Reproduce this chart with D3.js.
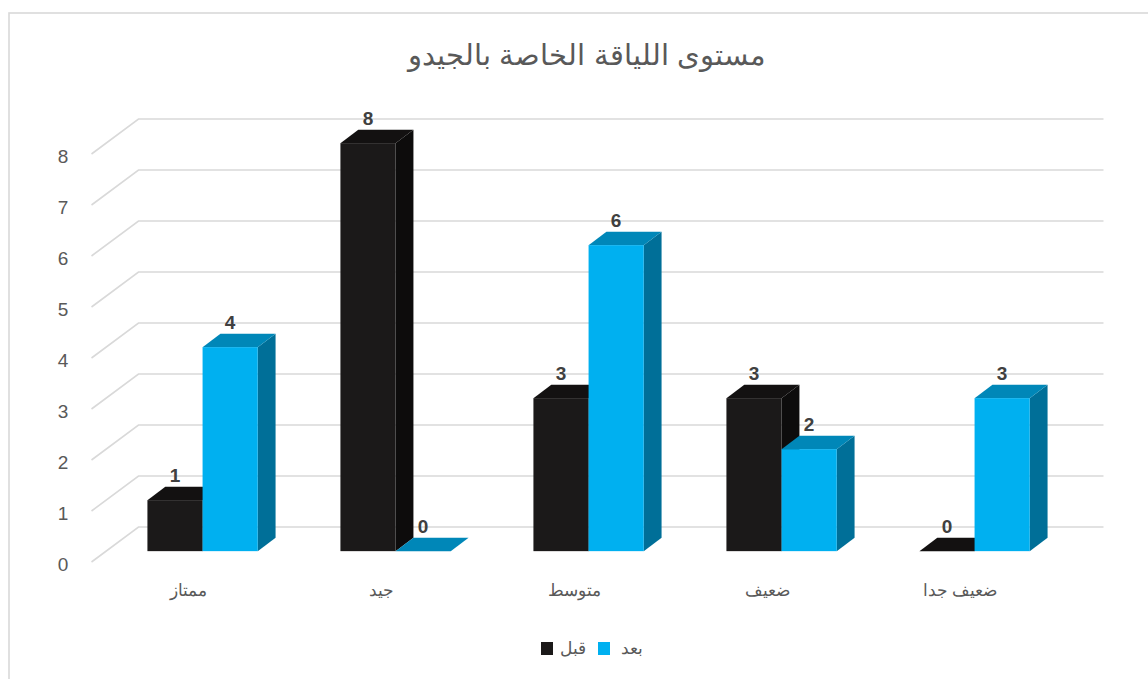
<!DOCTYPE html>
<html lang="ar">
<head>
<meta charset="utf-8">
<script src="https://cdn.jsdelivr.net/npm/d3@7"></script>
<style>
  html, body { margin: 0; padding: 0; background: #ffffff; }
  svg { display: block; }
  text { font-family: "Liberation Sans", Arial, sans-serif; }
</style>
</head>
<body>
<svg id="chart" width="1148" height="679"></svg>
<script>
// Chart data
const title = "مستوى اللياقة الخاصة بالجيدو";
const categories = ["ممتاز", "جيد", "متوسط", "ضعيف", "ضعيف جدا"];
const seriesNames = ["قبل", "بعد"];
const beforeValues = [1, 8, 3, 3, 0];
const afterValues = [4, 0, 6, 2, 3];
const tickValues = [0, 1, 2, 3, 4, 5, 6, 7, 8];

const seriesValues = [beforeValues, afterValues];

// Face colours for each series: front, top, side
const palette = [
  { front: "#1b1919", top: "#131111", side: "#0d0c0c", legend: "#1b1919" },
  { front: "#00b0f0", top: "#0087b8", side: "#006f98", legend: "#00b0f0" }
];

const svg = d3.select("#chart");

// Chart border
svg.append("rect")
  .attr("x", 9).attr("y", 13)
  .attr("width", 1200).attr("height", 720)
  .attr("fill", "none")
  .attr("stroke", "#d9d9d9")
  .attr("stroke-width", 1.6);

// Title
svg.append("text")
  .attr("x", 587).attr("y", 65)
  .attr("text-anchor", "middle")
  .attr("fill", "#595959")
  .style("font-size", "29px")
  .text(title);

// Oblique 3D projection: depth z runs 0 (front) to 1 (back wall)
const depthDX = 47, depthDY = 35;
const x = d3.scaleBand().domain(categories).range([91.5, 1056.5]).padding(0);
const bw = x.bandwidth();
// gap width 150%: two bars plus 1.5 bar widths of gap per category
const xs = d3.scaleBand().domain([0, 1])
  .range([bw * 0.75 / 3.5, bw * 2.75 / 3.5]).padding(0);
const y = d3.scaleLinear().domain([0, 8]).range([562, 562 - 8 * 51]);

const proj = (px, v, z) => [px + z * depthDX, y(v) - z * depthDY];

// Gridlines: left wall diagonals and back wall horizontals
const grid = svg.append("g")
  .attr("stroke", "#d9d9d9").attr("stroke-width", 1.6).attr("fill", "none");
const x0 = x.range()[0], x1 = x.range()[1];
tickValues.forEach(t => {
  const a = proj(x0, t, 0), b = proj(x0, t, 1), c = proj(x1, t, 1);
  grid.append("path").attr("d", `M${a[0]},${a[1]}L${b[0]},${b[1]}L${c[0]},${c[1]}`);
});

// Value axis labels
svg.append("g").selectAll("text")
  .data(tickValues).join("text")
  .attr("x", 63)
  .attr("y", d => y(d) + 9)
  .attr("text-anchor", "middle")
  .attr("fill", "#595959")
  .style("font-size", "19px")
  .text(d => d);

// Bars
const zf = 0.31, zb = 0.69;
const bars = svg.append("g");
const poly = pts => "M" + pts.map(p => p.join(",")).join("L") + "Z";

categories.forEach((cat, ci) => {
  seriesValues.forEach((vals, si) => {
    const v = vals[ci];
    const left = x(cat) + xs(si);
    const right = left + xs.bandwidth();
    const col = palette[si];
    const g = bars.append("g");
    // side face
    if (v > 0) {
      g.append("path")
        .attr("d", poly([proj(right, 0, zf), proj(right, 0, zb), proj(right, v, zb), proj(right, v, zf)]))
        .attr("fill", col.side);
    }
    // top face
    g.append("path")
      .attr("d", poly([proj(left, v, zf), proj(left, v, zb), proj(right, v, zb), proj(right, v, zf)]))
      .attr("fill", col.top);
    // front face
    if (v > 0) {
      const p0 = proj(left, v, zf), p1 = proj(right, 0, zf);
      g.append("rect")
        .attr("x", p0[0]).attr("y", p0[1])
        .attr("width", p1[0] - p0[0]).attr("height", p1[1] - p0[1])
        .attr("fill", col.front);
    }
  });
});

// Data labels
categories.forEach((cat, ci) => {
  seriesValues.forEach((vals, si) => {
    const v = vals[ci];
    const cx = x(cat) + xs(si) + xs.bandwidth() / 2 + zf * depthDX;
    const topBack = proj(0, v, zb)[1];
    svg.append("text")
      .attr("x", cx)
      .attr("y", topBack - 5)
      .attr("text-anchor", "middle")
      .attr("fill", "#404040")
      .style("font-size", "19px")
      .style("font-weight", "bold")
      .text(v);
  });
});

// Category labels
svg.append("g").selectAll("text")
  .data(categories).join("text")
  .attr("x", d => x(d) + bw / 2)
  .attr("y", 596)
  .attr("text-anchor", "middle")
  .attr("fill", "#595959")
  .style("font-size", "17px")
  .text(d => d);

// Legend
const legend = svg.append("g");
const legendItems = [
  { name: seriesNames[0], color: palette[0].legend, sx: 541, tx: 586 },
  { name: seriesNames[1], color: palette[1].legend, sx: 598, tx: 643 }
];
legendItems.forEach(it => {
  legend.append("rect")
    .attr("x", it.sx).attr("y", 642)
    .attr("width", 12).attr("height", 13)
    .attr("fill", it.color);
  legend.append("text")
    .attr("x", it.tx).attr("y", 654)
    .attr("text-anchor", "end")
    .attr("fill", "#595959")
    .style("font-size", "17px")
    .text(it.name);
});
</script>
</body>
</html>
